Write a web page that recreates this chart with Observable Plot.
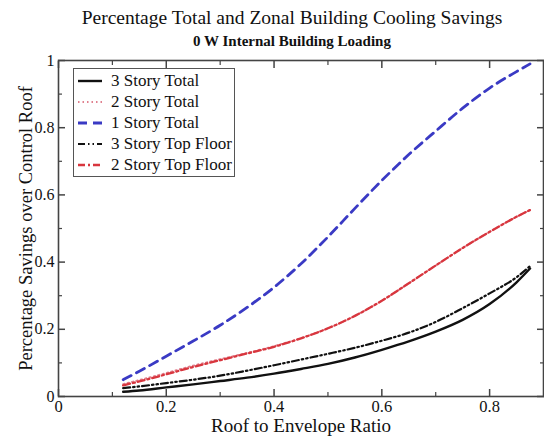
<!DOCTYPE html>
<html>
<head>
<meta charset="utf-8">
<script src="https://cdn.jsdelivr.net/npm/d3@7"></script>
<script src="https://cdn.jsdelivr.net/npm/@observablehq/plot@0.6"></script>
<style>
  body { margin: 0; width: 544px; height: 437px; background: #fff; position: relative; overflow: hidden;
         font-family: "Liberation Serif", "DejaVu Serif", serif; color: #111; }
  #title { height: 50px; text-align: center; padding-left: 40px; box-sizing: border-box; }
  #t1 { padding-top: 5px; font-size: 19.5px; line-height: 25px; }
  #t2 { margin-top: 3px; font-size: 15px; line-height: 17px; font-weight: bold; }
  #legend { position: absolute; left: 73px; top: 68px; width: 162px; height: 109px; border: 1.5px solid #555;
            background: #fff; box-sizing: border-box; padding-top: 1px; }
  .row { height: 21px; display: flex; align-items: center; font-size: 17px; }
  .row svg { margin-left: 4px; margin-right: 9px; }
</style>
</head>
<body>
<div id="title">
  <div id="t1">Percentage Total and Zonal Building Cooling Savings</div>
  <div id="t2">0 W Internal Building Loading</div>
</div>
<div id="chart"></div>
<div id="legend"></div>
<script>
// ---- data ----
const ratio = [0.12, 0.15, 0.2, 0.25, 0.3, 0.35, 0.4, 0.45, 0.5, 0.55, 0.6, 0.65, 0.7, 0.75, 0.8, 0.85, 0.875];
const story3Total    = [0.014, 0.018, 0.027, 0.036, 0.046, 0.056, 0.068, 0.082, 0.097, 0.116, 0.139, 0.164, 0.193, 0.228, 0.275, 0.34, 0.381];
const story2Total    = [0.037, 0.049, 0.07, 0.092, 0.111, 0.13, 0.15, 0.174, 0.203, 0.24, 0.285, 0.337, 0.39, 0.442, 0.49, 0.535, 0.555];
const story1Total    = [0.05, 0.075, 0.12, 0.165, 0.212, 0.265, 0.325, 0.395, 0.475, 0.56, 0.643, 0.72, 0.79, 0.858, 0.918, 0.967, 0.99];
const story3TopFloor = [0.025, 0.03, 0.04, 0.05, 0.062, 0.077, 0.093, 0.11, 0.127, 0.145, 0.166, 0.19, 0.222, 0.263, 0.307, 0.355, 0.388];
const story2TopFloor = [0.033, 0.045, 0.066, 0.088, 0.108, 0.128, 0.148, 0.173, 0.203, 0.24, 0.285, 0.337, 0.39, 0.442, 0.49, 0.535, 0.555];

const seriesNames = ["3 Story Total", "2 Story Total", "1 Story Total", "3 Story Top Floor", "2 Story Top Floor"];
const seriesValues = [story3Total, story2Total, story1Total, story3TopFloor, story2TopFloor];
const seriesColors = ["#111111", "#e0808e", "#3a3ac4", "#111111", "#d8363e"];
const seriesDash = [null, "1.5,3", "9,6", "7,3,1.5,3,1.5,3", "7,3,2,3"];
const seriesWidth = [2.4, 1.8, 2.8, 2.2, 2.3];

const xMajor = [0, 0.2, 0.4, 0.6, 0.8];
const xMinor = [0.1, 0.3, 0.5, 0.7];
const yMajor = [0, 0.2, 0.4, 0.6, 0.8, 1];
const yMinor = [0.1, 0.3, 0.5, 0.7, 0.9];

// ---- table ----
const rows = [];
seriesNames.forEach((name, i) => ratio.forEach((r, j) => rows.push({series: name, x: r, y: seriesValues[i][j]})));

const fmt = d => d === 0 ? "0" : d === 1 ? "1" : String(d);
const axisColor = "#444";
const font = "Liberation Serif";

const lineMarks = seriesNames.map((name, i) =>
  Plot.line(rows.filter(d => d.series === name), {
    x: "x", y: "y", curve: "monotone-x",
    stroke: seriesColors[i], strokeWidth: seriesWidth[i], strokeDasharray: seriesDash[i]
  })
);

const chart = Plot.plot({
  width: 544, height: 387,
  marginTop: 10, marginBottom: 41, marginLeft: 58, marginRight: 1,
  style: {fontFamily: font, fontSize: "16px", color: "#111", background: "#fff"},
  x: {domain: [0, 0.9]},
  y: {domain: [0, 1]},
  marks: [
    ...lineMarks,
    // inward ticks on all four sides
    Plot.axisX(xMajor, {anchor: "bottom", tickSize: -7, fill: "none", stroke: axisColor, strokeWidth: 1.5, label: null}),
    Plot.axisX(xMinor, {anchor: "bottom", tickSize: -4, fill: "none", stroke: axisColor, strokeWidth: 1.2, label: null}),
    Plot.axisX(xMajor, {anchor: "top", tickSize: -7, fill: "none", stroke: axisColor, strokeWidth: 1.5, label: null}),
    Plot.axisX(xMinor, {anchor: "top", tickSize: -4, fill: "none", stroke: axisColor, strokeWidth: 1.2, label: null}),
    Plot.axisY(yMajor, {anchor: "left", tickSize: -7, fill: "none", stroke: axisColor, strokeWidth: 1.5, label: null}),
    Plot.axisY(yMinor, {anchor: "left", tickSize: -4, fill: "none", stroke: axisColor, strokeWidth: 1.2, label: null}),
    Plot.axisY(yMajor, {anchor: "right", tickSize: -7, fill: "none", stroke: axisColor, strokeWidth: 1.5, label: null}),
    Plot.axisY(yMinor, {anchor: "right", tickSize: -4, fill: "none", stroke: axisColor, strokeWidth: 1.2, label: null}),
    // tick labels
    Plot.axisX(xMajor, {anchor: "bottom", tickSize: 0, tickPadding: 4, tickFormat: fmt, fill: "#111", fontSize: 16.5, label: null}),
    Plot.axisY(yMajor, {anchor: "left", tickSize: 0, tickPadding: 4, tickFormat: fmt, fill: "#111", fontSize: 16, label: null}),
    // axis titles
    Plot.axisX([], {anchor: "bottom", tickSize: 0, fill: "#111", fontSize: 19,
      label: "Roof to Envelope Ratio", labelAnchor: "center", labelOffset: 35, labelArrow: "none"}),
    Plot.axisY([], {anchor: "left", tickSize: 0, fill: "#111", fontSize: 18.5,
      label: "Percentage Savings over Control Roof", labelAnchor: "center", labelOffset: 40, labelArrow: "none"}),
    Plot.frame({stroke: axisColor, strokeWidth: 1.6})
  ]
});
document.getElementById("chart").appendChild(chart);

// ---- legend ----
const legend = document.getElementById("legend");
seriesNames.forEach((name, i) => {
  const row = document.createElement("div");
  row.className = "row";
  const dash = seriesDash[i] ? `stroke-dasharray="${seriesDash[i]}"` : "";
  row.innerHTML = `<svg width="24" height="8"><line x1="0" y1="4" x2="24" y2="4" stroke="${seriesColors[i]}" stroke-width="${seriesWidth[i]}" ${dash}/></svg><span>${name}</span>`;
  legend.appendChild(row);
});
</script>
</body>
</html>
